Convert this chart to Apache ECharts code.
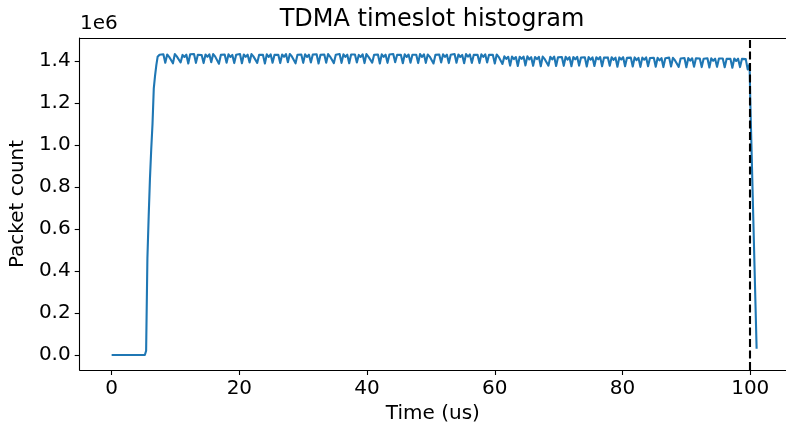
<!DOCTYPE html>
<html>
<head>
<meta charset="utf-8">
<script src="https://cdn.jsdelivr.net/npm/echarts@6/dist/echarts.min.js"></script>
<style>html,body{margin:0;padding:0;background:#fff}#c{width:786px;height:430px}</style>
</head>
<body>
<div id="c"></div>
<script>
// Time samples (us)
const rampTimes = [0, 5.2, 5.4, 5.6, 5.8, 6.0, 6.2, 6.4, 6.6, 6.8, 7.0, 7.2];
const rampCounts = [0, 0, 0.02, 0.46, 0.66, 0.84, 0.98, 1.10, 1.27, 1.33, 1.38, 1.42];

const plateauTimes = [
7.5,7.8,8.1,8.4,8.7,9.0,9.3,9.6,9.9,10.2,
10.5,10.8,11.1,11.4,11.7,12.0,12.3,12.6,12.9,13.2,
13.5,13.8,14.1,14.4,14.7,15.0,15.3,15.6,15.9,16.2,
16.5,16.8,17.1,17.4,17.7,18.0,18.3,18.6,18.9,19.2,
19.5,19.8,20.1,20.4,20.7,21.0,21.3,21.6,21.9,22.2,
22.5,22.8,23.1,23.4,23.7,24.0,24.3,24.6,24.9,25.2,
25.5,25.8,26.1,26.4,26.7,27.0,27.3,27.6,27.9,28.2,
28.5,28.8,29.1,29.4,29.7,30.0,30.3,30.6,30.9,31.2,
31.5,31.8,32.1,32.4,32.7,33.0,33.3,33.6,33.9,34.2,
34.5,34.8,35.1,35.4,35.7,36.0,36.3,36.6,36.9,37.2,
37.5,37.8,38.1,38.4,38.7,39.0,39.3,39.6,39.9,40.2,
40.5,40.8,41.1,41.4,41.7,42.0,42.3,42.6,42.9,43.2,
43.5,43.8,44.1,44.4,44.7,45.0,45.3,45.6,45.9,46.2,
46.5,46.8,47.1,47.4,47.7,48.0,48.3,48.6,48.9,49.2,
49.5,49.8,50.1,50.4,50.7,51.0,51.3,51.6,51.9,52.2,
52.5,52.8,53.1,53.4,53.7,54.0,54.3,54.6,54.9,55.2,
55.5,55.8,56.1,56.4,56.7,57.0,57.3,57.6,57.9,58.2,
58.5,58.8,59.1,59.4,59.7,60.0,60.3,60.6,60.9,61.2,
61.5,61.8,62.1,62.4,62.7,63.0,63.3,63.6,63.9,64.2,
64.5,64.8,65.1,65.4,65.7,66.0,66.3,66.6,66.9,67.2,
67.5,67.8,68.1,68.4,68.7,69.0,69.3,69.6,69.9,70.2,
70.5,70.8,71.1,71.4,71.7,72.0,72.3,72.6,72.9,73.2,
73.5,73.8,74.1,74.4,74.7,75.0,75.3,75.6,75.9,76.2,
76.5,76.8,77.1,77.4,77.7,78.0,78.3,78.6,78.9,79.2,
79.5,79.8,80.1,80.4,80.7,81.0,81.3,81.6,81.9,82.2,
82.5,82.8,83.1,83.4,83.7,84.0,84.3,84.6,84.9,85.2,
85.5,85.8,86.1,86.4,86.7,87.0,87.3,87.6,87.9,88.2,
88.5,88.8,89.1,89.4,89.7,90.0,90.3,90.6,90.9,91.2,
91.5,91.8,92.1,92.4,92.7,93.0,93.3,93.6,93.9,94.2,
94.5,94.8,95.1,95.4,95.7,96.0,96.3,96.6,96.9,97.2,
97.5,97.8,98.1,98.4,98.7,99.0,99.3,99.6
];
// packet counts in units of 1e6
const plateauCounts = [
1.430,1.421,1.432,1.392, 1.431,1.420,1.429,1.389, 1.433,1.422,1.431,1.393, 1.429,1.419,1.430,1.388,
1.432,1.423,1.433,1.391, 1.430,1.421,1.428,1.390, 1.431,1.420,1.432,1.394, 1.433,1.422,1.430,1.387,
1.429,1.421,1.431,1.392, 1.432,1.419,1.429,1.390, 1.430,1.423,1.433,1.389, 1.431,1.420,1.430,1.393,
1.433,1.422,1.431,1.391, 1.430,1.421,1.429,1.388, 1.432,1.419,1.432,1.392, 1.429,1.422,1.430,1.390,
1.431,1.420,1.433,1.394, 1.433,1.423,1.429,1.389, 1.430,1.421,1.431,1.391, 1.432,1.419,1.430,1.393,
1.431,1.422,1.432,1.388, 1.429,1.420,1.431,1.392, 1.433,1.421,1.429,1.390, 1.430,1.423,1.433,1.391,
1.432,1.420,1.430,1.389, 1.431,1.422,1.431,1.393, 1.429,1.419,1.432,1.390, 1.433,1.421,1.429,1.392,
1.430,1.422,1.431,1.388, 1.432,1.420,1.430,1.391, 1.431,1.423,1.433,1.394, 1.429,1.421,1.429,1.389,
1.432,1.419,1.431,1.392, 1.430,1.422,1.430,1.390, 1.433,1.420,1.432,1.391, 1.431,1.421,1.429,1.388,
1.429,1.423,1.431,1.393, 1.432,1.420,1.430,1.390, 1.430,1.422,1.433,1.392, 1.431,1.419,1.429,1.389,
1.433,1.421,1.431,1.391, 1.429,1.422,1.430,1.390, 1.432,1.420,1.432,1.393, 1.430,1.421,1.429,1.388,
1.431,1.420,1.428,1.386,
1.422,1.410,1.420,1.378, 1.421,1.409,1.419,1.376, 1.420,1.410,1.421,1.379, 1.422,1.408,1.418,1.377,
1.419,1.409,1.420,1.375, 1.421,1.410,1.419,1.378, 1.420,1.408,1.421,1.376, 1.418,1.409,1.419,1.377,
1.420,1.407,1.418,1.375, 1.419,1.408,1.420,1.378, 1.417,1.409,1.418,1.374, 1.419,1.406,1.417,1.376,
1.418,1.408,1.419,1.375, 1.416,1.407,1.417,1.377, 1.418,1.405,1.416,1.373, 1.417,1.407,1.418,1.375,
1.415,1.406,1.416,1.374, 1.417,1.404,1.415,1.372, 1.416,1.406,1.417,1.375, 1.414,1.405,1.415,1.373,
1.415,1.403,1.414,1.371, 1.413,1.405,1.416,1.374, 1.415,1.404,1.413,1.372, 1.412,1.403,1.414,1.370,
1.414,1.402,1.413,1.373, 1.413,1.404,1.412,1.371, 1.411,1.402,1.413,1.369, 1.413,1.401,1.411,1.372,
1.412,1.403,1.412,1.370, 1.410,1.402,1.410,1.368, 1.412,1.400,1.411,1.371, 1.410,1.401,1.409,1.360
];
const tailTimes = [99.9, 100.0, 101.0];
const tailCounts = [1.385, 1.22, 0.03];

const slotEnd = 100;
const xTicks = [0, 20, 40, 60, 80, 100];
const yTicks = [0, 0.2, 0.4, 0.6, 0.8, 1.0, 1.2, 1.4];

const times = rampTimes.concat(plateauTimes, tailTimes);
const counts = rampCounts.concat(plateauCounts, tailCounts);
const seriesData = times.map((t, i) => [t, counts[i]]);

const FONT = 'DejaVu Sans';
const chart = echarts.init(document.getElementById('c'), null, {renderer: 'canvas'});
const axisLine = {show: true, onZero: false, lineStyle: {color: '#000', width: 1.1}};
chart.setOption({
  animation: false,
  backgroundColor: '#fff',
  textStyle: {fontFamily: FONT},
  grid: {left: 79, top: 38, right: 0, bottom: 60, containLabel: false},
  graphic: [
    {type: 'text', x: 432, y: 8, style: {text: 'TDMA timeslot histogram', fontFamily: FONT, fontSize: 24, fill: '#000', textAlign: 'center', textVerticalAlign: 'top'}},
    {type: 'text', x: 80, y: 14, style: {text: '1e6', fontFamily: FONT, fontSize: 20, fill: '#000', textAlign: 'left', textVerticalAlign: 'top'}}
  ],
  xAxis: [{
    type: 'value', min: -5.0, max: 105.6, position: 'bottom',
    splitLine: {show: false},
    axisLine: axisLine,
    axisTick: {show: true, inside: false, length: 5, lineStyle: {color: '#000', width: 1.1}, customValues: xTicks},
    axisLabel: {color: '#000', fontSize: 20, fontFamily: FONT, margin: 9, customValues: xTicks, formatter: v => String(v)},
    name: 'Time (us)', nameLocation: 'middle', nameGap: 31,
    nameTextStyle: {color: '#000', fontSize: 20, fontFamily: FONT}
  }, {
    type: 'value', min: -5.0, max: 105.6, position: 'top',
    splitLine: {show: false}, axisLine: axisLine, axisTick: {show: false}, axisLabel: {show: false}
  }],
  yAxis: [{
    type: 'value', min: -0.0714, max: 1.5095,
    splitLine: {show: false},
    axisLine: axisLine,
    axisTick: {show: true, inside: false, length: 5, lineStyle: {color: '#000', width: 1.1}, customValues: yTicks},
    axisLabel: {color: '#000', fontSize: 20, fontFamily: FONT, margin: 9, customValues: yTicks, formatter: v => v.toFixed(1)},
    name: 'Packet count', nameLocation: 'middle', nameGap: 50, nameRotate: 90,
    nameTextStyle: {color: '#000', fontSize: 20, fontFamily: FONT}
  }],
  series: [{
    type: 'line', xAxisIndex: 0, yAxisIndex: 0,
    data: seriesData, showSymbol: false, symbol: 'none',
    lineStyle: {color: '#1f77b4', width: 2.1, join: 'round'},
    markLine: {
      silent: true, symbol: 'none', label: {show: false},
      lineStyle: {color: '#000', type: [8, 3.5], width: 2.1},
      data: [{xAxis: slotEnd}]
    }
  }]
});
</script>
</body>
</html>
